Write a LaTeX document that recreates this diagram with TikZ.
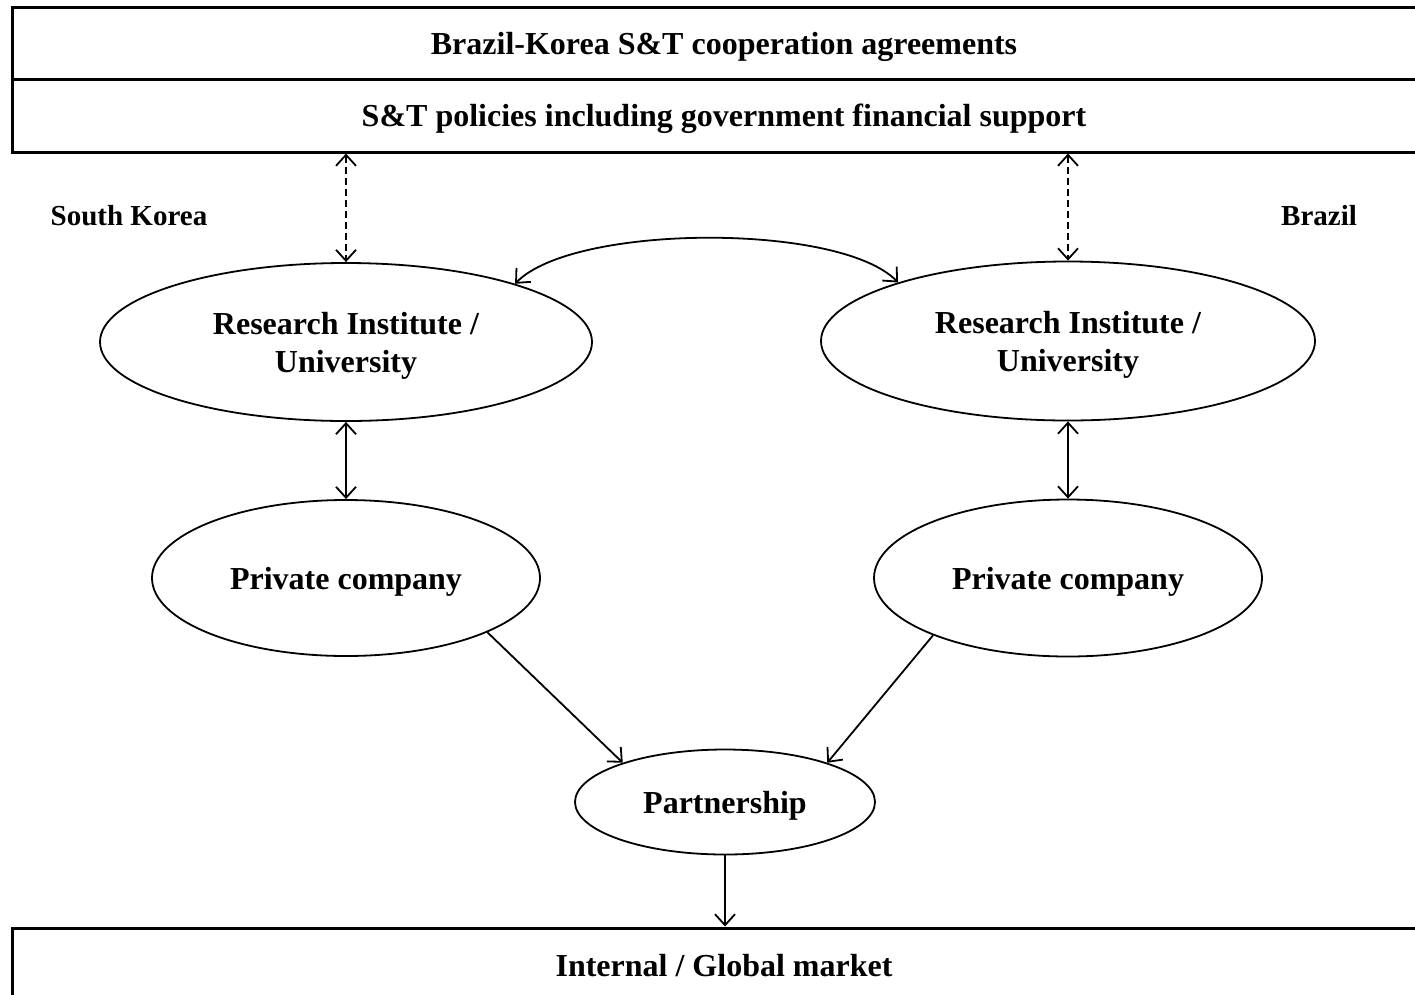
\documentclass[tikz,border=0pt]{standalone}
\usepackage{fontspec}
\setmainfont{Liberation Serif}
\usetikzlibrary{shapes.geometric,arrows.meta,calc}
\begin{document}
\begin{tikzpicture}[x=1pt,y=-1pt,
  txt/.style={font=\fontsize{32}{38}\selectfont\bfseries},
  sidetxt/.style={font=\fontsize{29}{34}\selectfont\bfseries},
  bandbox/.style={draw,line width=3pt,rectangle,minimum width=1424pt,inner sep=0pt,txt},
  oval/.style={draw,line width=1.8pt,ellipse,inner sep=0pt,align=center,txt,text depth=0pt},
  arr/.style={line width=1.8pt,{Straight Barb[length=11pt,width=20pt,line width=1.8pt]}-{Straight Barb[length=11pt,width=20pt,line width=1.8pt]}},
  onearr/.style={line width=1.8pt,-{Straight Barb[length=11pt,width=20pt,line width=1.8pt]}}
]
\useasboundingbox (0,0) rectangle (1415,994);
\clip (0,0) rectangle (1415,994);
\fill[white] (0,0) rectangle (1415,994);

\node[bandbox,minimum height=72pt,text depth=0pt] (agree) at (724,43) {Brazil-Korea S\&T cooperation agreements};
\node[bandbox,minimum height=73pt,text depth=0pt] (policy) at (724,115.5) {S\&T policies including government financial support};
\node[bandbox,minimum height=76pt] (market) at (724,966) {Internal / Global market};

\node[sidetxt] (sk) at (129,216) {South Korea};
\node[sidetxt] (br) at (1319,216) {Brazil};

\node[oval,minimum width=492pt,minimum height=158pt] (lri) at (346,342) {Research Institute /\\University};
\node[oval,minimum width=494pt,minimum height=159pt] (rri) at (1068,341) {Research Institute /\\University};
\node[oval,minimum width=388pt,minimum height=156pt] (lpc) at (346,578) {Private company};
\node[oval,minimum width=388pt,minimum height=157pt] (rpc) at (1068,578) {Private company};
\node[oval,minimum width=300pt,minimum height=105pt] (part) at (725,802) {Partnership};

\draw[arr,dash pattern=on 7pt off 4pt] (policy.south -| lri.north) -- (lri.north);
\draw[arr,dash pattern=on 7pt off 4pt] (policy.south -| rri.north) -- (rri.north);
\draw[arr] (lri.south) -- (lpc.north);
\draw[arr] (rri.south) -- (rpc.north);
\draw[arr] (lri.19) .. controls +(58,-60) and +(-58,-60) .. (rri.161);
\draw[onearr] (lpc.-21) -- (part.159);
\draw[onearr] (rpc.-157) -- (part.21);
\draw[onearr] (part.south) -- (part.south |- market.north);
\end{tikzpicture}
\end{document}
